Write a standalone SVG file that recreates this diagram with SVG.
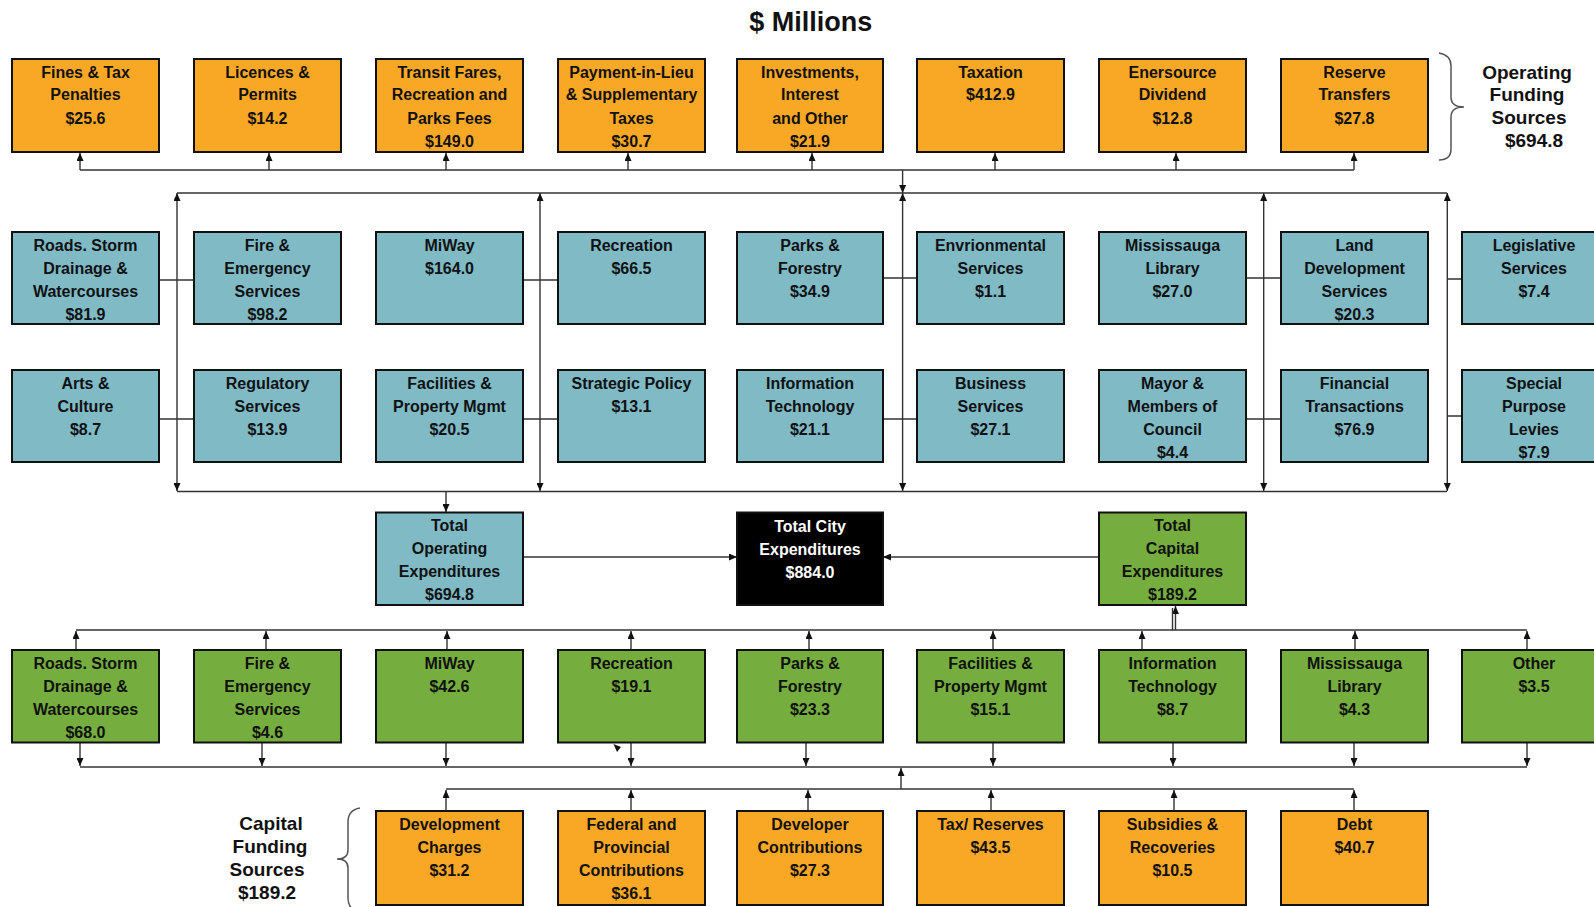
<svg xmlns="http://www.w3.org/2000/svg" width="1594" height="907" viewBox="0 0 1594 907">
<style>
.b{stroke:#111;stroke-width:2}
.o{fill:#F9A825}
.u{fill:#7FBAC5}
.g{fill:#76AD3F}
.k{fill:#000}
.t{font-family:"Liberation Sans",Arial,sans-serif;font-weight:bold;font-size:16px;text-anchor:middle;fill:#111}
.w{fill:#fff}
.s{font-family:"Liberation Sans",Arial,sans-serif;font-weight:bold;font-size:19px;text-anchor:middle;fill:#111}
.c line,.c path{stroke:#333;stroke-width:1.4;fill:none}
.a{marker-end:url(#ah)}
.d{marker-start:url(#ah);marker-end:url(#ah)}
.br{stroke:#555;stroke-width:1.5;fill:none}
</style>
<defs>
<marker id="ah" markerUnits="userSpaceOnUse" markerWidth="8" markerHeight="7" refX="8" refY="3.5" orient="auto-start-reverse"><path d="M0,0 L8,3.5 L0,7 z" fill="#111"/></marker>
</defs>
<rect width="1594" height="907" fill="#fff"/>
<text x="810.7" y="31" class="s" style="font-size:27px">$ Millions</text>

<g id="connectors" class="c">
<path d="M80,170 H1354"/>
<line class="a" x1="80" y1="170" x2="80" y2="153"/>
<line class="a" x1="269" y1="170" x2="269" y2="153"/>
<line class="a" x1="446" y1="170" x2="446" y2="153"/>
<line class="a" x1="628" y1="170" x2="628" y2="153"/>
<line class="a" x1="812" y1="170" x2="812" y2="153"/>
<line class="a" x1="995" y1="170" x2="995" y2="153"/>
<line class="a" x1="1176" y1="170" x2="1176" y2="153"/>
<line class="a" x1="1354" y1="170" x2="1354" y2="153"/>
<line class="a" x1="902.6" y1="170" x2="902.6" y2="193"/>
<path d="M177,193 H1447"/>
<path d="M177,491.5 H1447"/>
<line class="d" x1="177" y1="193" x2="177" y2="491"/>
<line class="d" x1="540" y1="193" x2="540" y2="491"/>
<line class="d" x1="902.6" y1="193" x2="902.6" y2="491"/>
<line class="d" x1="1263.7" y1="193" x2="1263.7" y2="491"/>
<line class="d" x1="1447.3" y1="193" x2="1447.3" y2="491"/>
<path d="M159,280 H194 M523,280 H558 M883,278 H917 M1247,278 H1281 M1447,279 H1462"/>
<path d="M159,419 H194 M523,419 H558 M883,419 H917 M1247,419 H1281 M1447,416 H1462"/>
<line class="a" x1="446" y1="491.5" x2="446" y2="512"/>
<line class="a" x1="523" y1="557" x2="737" y2="557"/>
<line class="a" x1="1099.5" y1="557" x2="883" y2="557"/>
<path d="M76,630 H1527"/>
<line class="a" x1="76" y1="650" x2="76" y2="631"/>
<line class="a" x1="266" y1="650" x2="266" y2="631"/>
<line class="a" x1="447" y1="650" x2="447" y2="631"/>
<line class="a" x1="631" y1="650" x2="631" y2="631"/>
<line class="a" x1="809" y1="650" x2="809" y2="631"/>
<line class="a" x1="993" y1="650" x2="993" y2="631"/>
<line class="a" x1="1142" y1="650" x2="1142" y2="631"/>
<line class="a" x1="1355" y1="650" x2="1355" y2="631"/>
<line class="a" x1="1527" y1="650" x2="1527" y2="631"/>
<line class="a" x1="1175.5" y1="630" x2="1175.5" y2="606"/>
<line x1="1172.5" y1="630" x2="1172.5" y2="608"/>
<line class="a" x1="80" y1="742.5" x2="80" y2="766"/>
<line class="a" x1="262" y1="742.5" x2="262" y2="766"/>
<line class="a" x1="446" y1="742.5" x2="446" y2="766"/>
<line class="a" x1="631" y1="742.5" x2="631" y2="766"/>
<line class="a" x1="806" y1="742.5" x2="806" y2="766"/>
<line class="a" x1="993" y1="742.5" x2="993" y2="766"/>
<line class="a" x1="1173" y1="742.5" x2="1173" y2="766"/>
<line class="a" x1="1354" y1="742.5" x2="1354" y2="766"/>
<line class="a" x1="1527" y1="742.5" x2="1527" y2="766"/>
<path d="M80,767 H1527"/>
<line class="a" x1="901" y1="789" x2="901" y2="768"/>
<path d="M446,789 H1354"/>
<line class="a" x1="446" y1="811" x2="446" y2="790"/>
<line class="a" x1="631" y1="811" x2="631" y2="790"/>
<line class="a" x1="808" y1="811" x2="808" y2="790"/>
<line class="a" x1="991" y1="811" x2="991" y2="790"/>
<line class="a" x1="1174" y1="811" x2="1174" y2="790"/>
<line class="a" x1="1354" y1="811" x2="1354" y2="790"/>
<polygon points="613.5,744 621,747 617,752" fill="#111"/>
</g>

<!-- Operating funding sources -->
<g id="src-fines"><rect class="b o" x="12" y="59" width="147" height="93"/><text class="t"><tspan x="85.5" y="78">Fines &amp; Tax</tspan><tspan x="85.5" y="100">Penalties</tspan><tspan x="85.5" y="124">$25.6</tspan></text></g>
<g id="src-licences"><rect class="b o" x="194" y="59" width="147" height="93"/><text class="t"><tspan x="267.5" y="78">Licences &amp;</tspan><tspan x="267.5" y="100">Permits</tspan><tspan x="267.5" y="124">$14.2</tspan></text></g>
<g id="src-transit"><rect class="b o" x="376" y="59" width="147" height="93"/><text class="t"><tspan x="449.5" y="78">Transit Fares,</tspan><tspan x="449.5" y="100">Recreation and</tspan><tspan x="449.5" y="124">Parks Fees</tspan><tspan x="449.5" y="147">$149.0</tspan></text></g>
<g id="src-pil"><rect class="b o" x="558" y="59" width="147" height="93"/><text class="t"><tspan x="631.5" y="78">Payment-in-Lieu</tspan><tspan x="631.5" y="100">&amp; Supplementary</tspan><tspan x="631.5" y="124">Taxes</tspan><tspan x="631.5" y="147">$30.7</tspan></text></g>
<g id="src-invest"><rect class="b o" x="737" y="59" width="146" height="93"/><text class="t"><tspan x="810" y="78">Investments,</tspan><tspan x="810" y="100">Interest</tspan><tspan x="810" y="124">and Other</tspan><tspan x="810" y="147">$21.9</tspan></text></g>
<g id="src-tax"><rect class="b o" x="917" y="59" width="147" height="93"/><text class="t"><tspan x="990.5" y="78">Taxation</tspan><tspan x="990.5" y="100">$412.9</tspan></text></g>
<g id="src-ener"><rect class="b o" x="1099" y="59" width="147" height="93"/><text class="t"><tspan x="1172.5" y="78">Enersource</tspan><tspan x="1172.5" y="100">Dividend</tspan><tspan x="1172.5" y="124">$12.8</tspan></text></g>
<g id="src-reserve"><rect class="b o" x="1281" y="59" width="147" height="93"/><text class="t"><tspan x="1354.5" y="78">Reserve</tspan><tspan x="1354.5" y="100">Transfers</tspan><tspan x="1354.5" y="124">$27.8</tspan></text></g>
<g id="label-operating"><path class="br" d="M1439,53 Q1451,55 1451,66 V97 Q1451,107 1464,107 Q1451,107 1451,117 V149 Q1451,160 1439,160"/><text class="s"><tspan x="1527" y="79">Operating</tspan><tspan x="1527" y="101">Funding</tspan><tspan x="1529" y="124">Sources</tspan><tspan x="1534" y="147">$694.8</tspan></text></g>

<!-- Operating expenditures row 1 -->
<g id="op-roads"><rect class="b u" x="12" y="232" width="147" height="92"/><text class="t"><tspan x="85.5" y="251">Roads. Storm</tspan><tspan x="85.5" y="274">Drainage &amp;</tspan><tspan x="85.5" y="297">Watercourses</tspan><tspan x="85.5" y="320">$81.9</tspan></text></g>
<g id="op-fire"><rect class="b u" x="194" y="232" width="147" height="92"/><text class="t"><tspan x="267.5" y="251">Fire &amp;</tspan><tspan x="267.5" y="274">Emergency</tspan><tspan x="267.5" y="297">Services</tspan><tspan x="267.5" y="320">$98.2</tspan></text></g>
<g id="op-miway"><rect class="b u" x="376" y="232" width="147" height="92"/><text class="t"><tspan x="449.5" y="251">MiWay</tspan><tspan x="449.5" y="274">$164.0</tspan></text></g>
<g id="op-rec"><rect class="b u" x="558" y="232" width="147" height="92"/><text class="t"><tspan x="631.5" y="251">Recreation</tspan><tspan x="631.5" y="274">$66.5</tspan></text></g>
<g id="op-parks"><rect class="b u" x="737" y="232" width="146" height="92"/><text class="t"><tspan x="810" y="251">Parks &amp;</tspan><tspan x="810" y="274">Forestry</tspan><tspan x="810" y="297">$34.9</tspan></text></g>
<g id="op-env"><rect class="b u" x="917" y="232" width="147" height="92"/><text class="t"><tspan x="990.5" y="251">Envrionmental</tspan><tspan x="990.5" y="274">Services</tspan><tspan x="990.5" y="297">$1.1</tspan></text></g>
<g id="op-library"><rect class="b u" x="1099" y="232" width="147" height="92"/><text class="t"><tspan x="1172.5" y="251">Mississauga</tspan><tspan x="1172.5" y="274">Library</tspan><tspan x="1172.5" y="297">$27.0</tspan></text></g>
<g id="op-land"><rect class="b u" x="1281" y="232" width="147" height="92"/><text class="t"><tspan x="1354.5" y="251">Land</tspan><tspan x="1354.5" y="274">Development</tspan><tspan x="1354.5" y="297">Services</tspan><tspan x="1354.5" y="320">$20.3</tspan></text></g>
<g id="op-legis"><rect class="b u" x="1462" y="232" width="147" height="92"/><text class="t"><tspan x="1534" y="251">Legislative</tspan><tspan x="1534" y="274">Services</tspan><tspan x="1534" y="297">$7.4</tspan></text></g>

<!-- Operating expenditures row 2 -->
<g id="op-arts"><rect class="b u" x="12" y="370" width="147" height="92"/><text class="t"><tspan x="85.5" y="389">Arts &amp;</tspan><tspan x="85.5" y="412">Culture</tspan><tspan x="85.5" y="435">$8.7</tspan></text></g>
<g id="op-reg"><rect class="b u" x="194" y="370" width="147" height="92"/><text class="t"><tspan x="267.5" y="389">Regulatory</tspan><tspan x="267.5" y="412">Services</tspan><tspan x="267.5" y="435">$13.9</tspan></text></g>
<g id="op-fac"><rect class="b u" x="376" y="370" width="147" height="92"/><text class="t"><tspan x="449.5" y="389">Facilities &amp;</tspan><tspan x="449.5" y="412">Property Mgmt</tspan><tspan x="449.5" y="435">$20.5</tspan></text></g>
<g id="op-strat"><rect class="b u" x="558" y="370" width="147" height="92"/><text class="t"><tspan x="631.5" y="389">Strategic Policy</tspan><tspan x="631.5" y="412">$13.1</tspan></text></g>
<g id="op-it"><rect class="b u" x="737" y="370" width="146" height="92"/><text class="t"><tspan x="810" y="389">Information</tspan><tspan x="810" y="412">Technology</tspan><tspan x="810" y="435">$21.1</tspan></text></g>
<g id="op-bus"><rect class="b u" x="917" y="370" width="147" height="92"/><text class="t"><tspan x="990.5" y="389">Business</tspan><tspan x="990.5" y="412">Services</tspan><tspan x="990.5" y="435">$27.1</tspan></text></g>
<g id="op-mayor"><rect class="b u" x="1099" y="370" width="147" height="92"/><text class="t"><tspan x="1172.5" y="389">Mayor &amp;</tspan><tspan x="1172.5" y="412">Members of</tspan><tspan x="1172.5" y="435">Council</tspan><tspan x="1172.5" y="458">$4.4</tspan></text></g>
<g id="op-fin"><rect class="b u" x="1281" y="370" width="147" height="92"/><text class="t"><tspan x="1354.5" y="389">Financial</tspan><tspan x="1354.5" y="412">Transactions</tspan><tspan x="1354.5" y="435">$76.9</tspan></text></g>
<g id="op-spl"><rect class="b u" x="1462" y="370" width="147" height="92"/><text class="t"><tspan x="1534" y="389">Special</tspan><tspan x="1534" y="412">Purpose</tspan><tspan x="1534" y="435">Levies</tspan><tspan x="1534" y="458">$7.9</tspan></text></g>

<!-- Totals -->
<g id="total-op"><rect class="b u" x="376" y="512.5" width="147" height="92.5"/><text class="t"><tspan x="449.5" y="531">Total</tspan><tspan x="449.5" y="554">Operating</tspan><tspan x="449.5" y="577">Expenditures</tspan><tspan x="449.5" y="600">$694.8</tspan></text></g>
<g id="total-city"><rect class="b k" x="737" y="512.5" width="146" height="92.5"/><text class="t w"><tspan x="810" y="532">Total City</tspan><tspan x="810" y="555">Expenditures</tspan><tspan x="810" y="578">$884.0</tspan></text></g>
<g id="total-cap"><rect class="b g" x="1099" y="512.5" width="147" height="92.5"/><text class="t"><tspan x="1172.5" y="531">Total</tspan><tspan x="1172.5" y="554">Capital</tspan><tspan x="1172.5" y="577">Expenditures</tspan><tspan x="1172.5" y="600">$189.2</tspan></text></g>

<!-- Capital expenditures -->
<g id="cap-roads"><rect class="b g" x="12" y="650" width="147" height="92.5"/><text class="t"><tspan x="85.5" y="669">Roads. Storm</tspan><tspan x="85.5" y="692">Drainage &amp;</tspan><tspan x="85.5" y="715">Watercourses</tspan><tspan x="85.5" y="738">$68.0</tspan></text></g>
<g id="cap-fire"><rect class="b g" x="194" y="650" width="147" height="92.5"/><text class="t"><tspan x="267.5" y="669">Fire &amp;</tspan><tspan x="267.5" y="692">Emergency</tspan><tspan x="267.5" y="715">Services</tspan><tspan x="267.5" y="738">$4.6</tspan></text></g>
<g id="cap-miway"><rect class="b g" x="376" y="650" width="147" height="92.5"/><text class="t"><tspan x="449.5" y="669">MiWay</tspan><tspan x="449.5" y="692">$42.6</tspan></text></g>
<g id="cap-rec"><rect class="b g" x="558" y="650" width="147" height="92.5"/><text class="t"><tspan x="631.5" y="669">Recreation</tspan><tspan x="631.5" y="692">$19.1</tspan></text></g>
<g id="cap-parks"><rect class="b g" x="737" y="650" width="146" height="92.5"/><text class="t"><tspan x="810" y="669">Parks &amp;</tspan><tspan x="810" y="692">Forestry</tspan><tspan x="810" y="715">$23.3</tspan></text></g>
<g id="cap-fac"><rect class="b g" x="917" y="650" width="147" height="92.5"/><text class="t"><tspan x="990.5" y="669">Facilities &amp;</tspan><tspan x="990.5" y="692">Property Mgmt</tspan><tspan x="990.5" y="715">$15.1</tspan></text></g>
<g id="cap-it"><rect class="b g" x="1099" y="650" width="147" height="92.5"/><text class="t"><tspan x="1172.5" y="669">Information</tspan><tspan x="1172.5" y="692">Technology</tspan><tspan x="1172.5" y="715">$8.7</tspan></text></g>
<g id="cap-library"><rect class="b g" x="1281" y="650" width="147" height="92.5"/><text class="t"><tspan x="1354.5" y="669">Mississauga</tspan><tspan x="1354.5" y="692">Library</tspan><tspan x="1354.5" y="715">$4.3</tspan></text></g>
<g id="cap-other"><rect class="b g" x="1462" y="650" width="147" height="92.5"/><text class="t"><tspan x="1534" y="669">Other</tspan><tspan x="1534" y="692">$3.5</tspan></text></g>

<!-- Capital funding sources -->
<g id="label-capital"><path class="br" d="M360,808 Q348,810 348,822 V850 Q348,859 337,859 Q348,859 348,868 V898 Q348,910 360,912"/><text class="s"><tspan x="271" y="830">Capital</tspan><tspan x="270" y="853">Funding</tspan><tspan x="267" y="876">Sources</tspan><tspan x="267" y="899">$189.2</tspan></text></g>
<g id="cf-dc"><rect class="b o" x="376" y="811" width="147" height="94"/><text class="t"><tspan x="449.5" y="830">Development</tspan><tspan x="449.5" y="853">Charges</tspan><tspan x="449.5" y="876">$31.2</tspan></text></g>
<g id="cf-fed"><rect class="b o" x="558" y="811" width="147" height="94"/><text class="t"><tspan x="631.5" y="830">Federal and</tspan><tspan x="631.5" y="853">Provincial</tspan><tspan x="631.5" y="876">Contributions</tspan><tspan x="631.5" y="899">$36.1</tspan></text></g>
<g id="cf-dev"><rect class="b o" x="737" y="811" width="146" height="94"/><text class="t"><tspan x="810" y="830">Developer</tspan><tspan x="810" y="853">Contributions</tspan><tspan x="810" y="876">$27.3</tspan></text></g>
<g id="cf-tax"><rect class="b o" x="917" y="811" width="147" height="94"/><text class="t"><tspan x="990.5" y="830">Tax/ Reserves</tspan><tspan x="990.5" y="853">$43.5</tspan></text></g>
<g id="cf-sub"><rect class="b o" x="1099" y="811" width="147" height="94"/><text class="t"><tspan x="1172.5" y="830">Subsidies &amp;</tspan><tspan x="1172.5" y="853">Recoveries</tspan><tspan x="1172.5" y="876">$10.5</tspan></text></g>
<g id="cf-debt"><rect class="b o" x="1281" y="811" width="147" height="94"/><text class="t"><tspan x="1354.5" y="830">Debt</tspan><tspan x="1354.5" y="853">$40.7</tspan></text></g>
</svg>
